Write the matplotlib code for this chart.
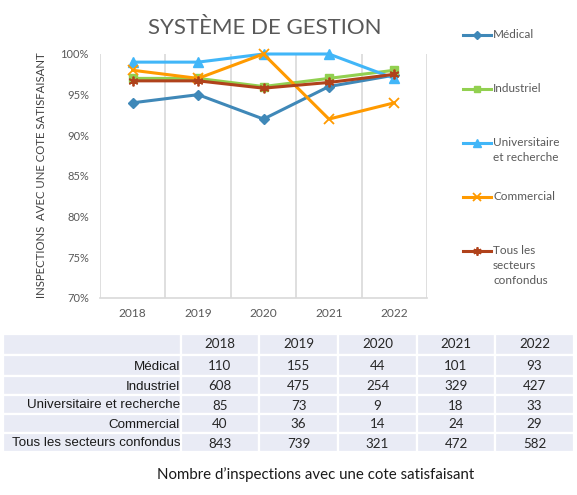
import numpy as np
import matplotlib
matplotlib.use("Agg")
import matplotlib.pyplot as plt
from matplotlib.lines import Line2D
from matplotlib.patches import Rectangle

plt.rcParams['font.family'] = ['Lato', 'DejaVu Sans']

# chart data (share of inspections with a satisfactory rating)
years = ['2018', '2019', '2020', '2021', '2022']
medical = [0.94, 0.95, 0.92, 0.96, 0.974]
industriel = [0.97, 0.97, 0.96, 0.97, 0.98]
universitaire = [0.99, 0.99, 1.00, 1.00, 0.97]
commercial = [0.98, 0.97, 1.00, 0.92, 0.94]
tous = [0.967, 0.967, 0.958, 0.965, 0.975]

# table data (number of inspections with a satisfactory rating)
row_labels = ['Médical', 'Industriel', 'Universitaire et recherche',
              'Commercial', 'Tous les secteurs confondus']
counts = [
    [110, 155, 44, 101, 93],
    [608, 475, 254, 329, 427],
    [85, 73, 9, 18, 33],
    [40, 36, 14, 24, 29],
    [843, 739, 321, 472, 582],
]

series = [
    (['Médical'], medical, '#3F88B8', 'D', 5, 1.0),
    (['Industriel'], industriel, '#92D050', 's', 6, 1.0),
    (['Universitaire', 'et recherche'], universitaire, '#41B6F8', '^', 7, 1.0),
    (['Commercial'], commercial, '#FF9A00', 'x', 7, 1.3),
    (['Tous les', 'secteurs', 'confondus'], tous, '#B0421B', (6, 2, 0), 7, 1.3),
]

W, H = 577, 495
fig = plt.figure(figsize=(W / 100, H / 100), dpi=100)
ax = fig.add_axes([100 / W, 1 - 298 / H, 327 / W, 244 / H])

x = np.arange(len(years))
for label, vals, color, marker, ms, mew in series:
    ax.plot(x, vals, color=color, lw=2.2, marker=marker, ms=ms,
            mfc=color, mec=color, mew=mew, clip_on=False, zorder=3)

ax.set_xlim(-0.5, len(years) - 0.5)
ax.set_ylim(0.70, 1.00)
yt = np.arange(0.70, 1.001, 0.05)
ax.set_yticks(yt)
ax.set_yticklabels([f"{round(v * 100)}%" for v in yt])
ax.set_xticks(x)
ax.set_xticklabels(years)
for v in np.arange(-0.5, len(years), 1):
    ax.axvline(v, color='#D9D9D9', lw=1.2, zorder=0)
for s in ['top', 'right', 'left']:
    ax.spines[s].set_visible(False)
ax.spines['bottom'].set_color('#D9D9D9')
ax.spines['bottom'].set_linewidth(1.2)
ax.tick_params(axis='y', length=0, pad=8, labelsize=8, labelcolor='#595959')
ax.tick_params(axis='x', length=0, pad=7, labelsize=8.6, labelcolor='#595959')

fig.text(265 / W, 1 - 27.5 / H, 'SYSTÈME DE GESTION', fontsize=16,
         color='#595959', ha='center', va='center')
fig.text(42 / W, 1 - 175 / H, 'INSPECTIONS  AVEC UNE COTE SATISFAISANT',
         rotation=90, fontsize=8.2, color='#404040', ha='center', va='center')

# overlay canvas in pixel units for legend, table and caption
cv = fig.add_axes([0, 0, 1, 1])
cv.set_xlim(0, W)
cv.set_ylim(H, 0)
cv.axis('off')

leg_y = [35, 89, 143, 197, 251]
for (label, vals, color, marker, ms, mew), y in zip(series, leg_y):
    cv.add_line(Line2D([463, 491], [y, y], color=color, lw=2.2))
    cv.plot([477], [y], marker=marker, ms=ms - 1, color=color, mfc=color,
            mec=color, mew=mew)
    for i, line in enumerate(label):
        cv.text(493, y + i * 14.5, line, fontsize=8.5, color='#595959',
                ha='left', va='center')

col_edges = [3, 181, 259, 338, 417, 495, 574]
row_edges = [334, 355, 376, 395, 414, 433, 452]
for r in range(len(row_edges) - 1):
    for c in range(len(col_edges) - 1):
        cv.add_patch(Rectangle((col_edges[c], row_edges[r]),
                               col_edges[c + 1] - col_edges[c],
                               row_edges[r + 1] - row_edges[r],
                               facecolor='#E9EBF5', edgecolor='white', lw=1.6))

def row_mid(r):
    return (row_edges[r] + row_edges[r + 1]) / 2 + 1

for c, yr in enumerate(years):
    cx = (col_edges[c + 1] + col_edges[c + 2]) / 2
    cv.text(cx, row_mid(0) - 1, yr, fontsize=9.6, color='#262626',
            ha='center', va='center')
for r, (lab, vals) in enumerate(zip(row_labels, counts)):
    cv.text(col_edges[1] - 1, row_mid(r + 1), lab, fontsize=9.6, color='#1a1a1a',
            ha='right', va='center', family='Liberation Sans')
    for c, v in enumerate(vals):
        cx = (col_edges[c + 1] + col_edges[c + 2]) / 2
        cv.text(cx, row_mid(r + 1), str(v), fontsize=9.6, color='#262626',
                ha='center', va='center')

cv.text(316, 475, 'Nombre d\u2019inspections avec une cote satisfaisant',
        fontsize=10.8, color='#1a1a1a', ha='center', va='center')

fig.savefig('out.png', dpi=100)
